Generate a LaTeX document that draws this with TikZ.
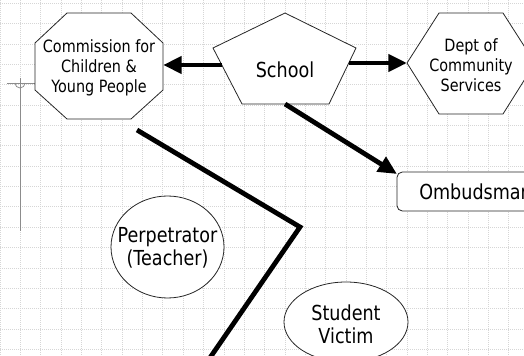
\documentclass[tikz,border=0pt]{standalone}
\usepackage{fontspec}
\setmainfont{DejaVu Sans}[FakeStretch=0.85]
\usetikzlibrary{arrows.meta}

\tikzset{
  outline/.style={draw=black!85,line width=0.6pt,fill=white},
  bigtext/.style={align=center,inner sep=0pt,font=\fontsize{15.5}{17.5}\selectfont},
  smalltext/.style={align=center,inner sep=0pt,font=\fontsize{12.7}{15}\selectfont},
  fatarrow/.style={line width=3.6pt,-{Triangle[length=14pt,width=12.5pt]}},
  fatline/.style={line width=3.6pt},
  gridline/.style={black!16,densely dotted,line width=0.5pt},
  marker/.style={black!45,line width=0.6pt},
}

\begin{document}
\begin{tikzpicture}[x=0.75pt,y=-0.75pt]
    \useasboundingbox (0,0) rectangle (524,356);
    \clip (0,0) rectangle (524,356);
	% grid
	\foreach \i in {0,...,25}
		\draw [gridline] (20.35*\i,0) -- (20.35*\i,356);
	\foreach \j in {0,...,17}
		\draw [gridline] (0,3.3+20.35*\j) -- (524,3.3+20.35*\j);
	% marker on the left
	\draw [marker] (20,78) -- (20,231);
	\draw [marker] (7,83) -- (35,83);
	\draw [marker] (15,83) arc (180:0:5);

	% outlines
	\draw [outline] (67,13) -- (131,13) -- (163,43) -- (163,90) -- (131,119) -- (67,119) -- (35,90) -- (35,43) -- cycle;
	\draw [outline] (285,13) -- (356,48) -- (329,104) -- (242,104) -- (213,48) -- cycle;
	\draw [outline] (407,63) -- (439,13) -- (503,13) -- (535,63) -- (503,114) -- (439,114) -- cycle;
	\draw [outline,rounded corners=4pt] (397,172) rectangle (551,211);
	\draw [outline] (167.5,247) ellipse [x radius=56.5,y radius=51];
	\draw [outline] (346,322) ellipse [x radius=62,y radius=40];

	% texts
	\node [smalltext] (comm) at (99,68) {Commission for\\Children \&\\Young People};
	\node [bigtext] (school) at (285,70) {School};
	\node [smalltext] (dept) at (471,65) {Dept of\\Community\\Services};
	\node [bigtext,anchor=west] (ombud) at (419,192) {Ombudsman};
	\node [bigtext] (perp) at (167.5,248) {Perpetrator\\(Teacher)};
	\node [bigtext] (victim) at (346,324) {Student\\Victim};

	% edges
	\coordinate (school-l) at (222,65);
	\coordinate (comm-r) at (163,65);
	\coordinate (school-r) at (349,63);
	\coordinate (dept-l) at (407,63);
	\coordinate (school-b) at (285,104);
	\coordinate (ombud-nw) at (397,174);
	\coordinate (cut-a) at (137,130);
	\coordinate (cut-b) at (300,227);
	\coordinate (cut-c) at (205,365);
	\draw [fatarrow] (school-l) -- (comm-r);
	\draw [fatarrow] (school-r) -- (dept-l);
	\draw [fatarrow] (school-b) -- (ombud-nw);
	\draw [fatline] (cut-a) -- (cut-b) -- (cut-c);
\end{tikzpicture}
\end{document}
